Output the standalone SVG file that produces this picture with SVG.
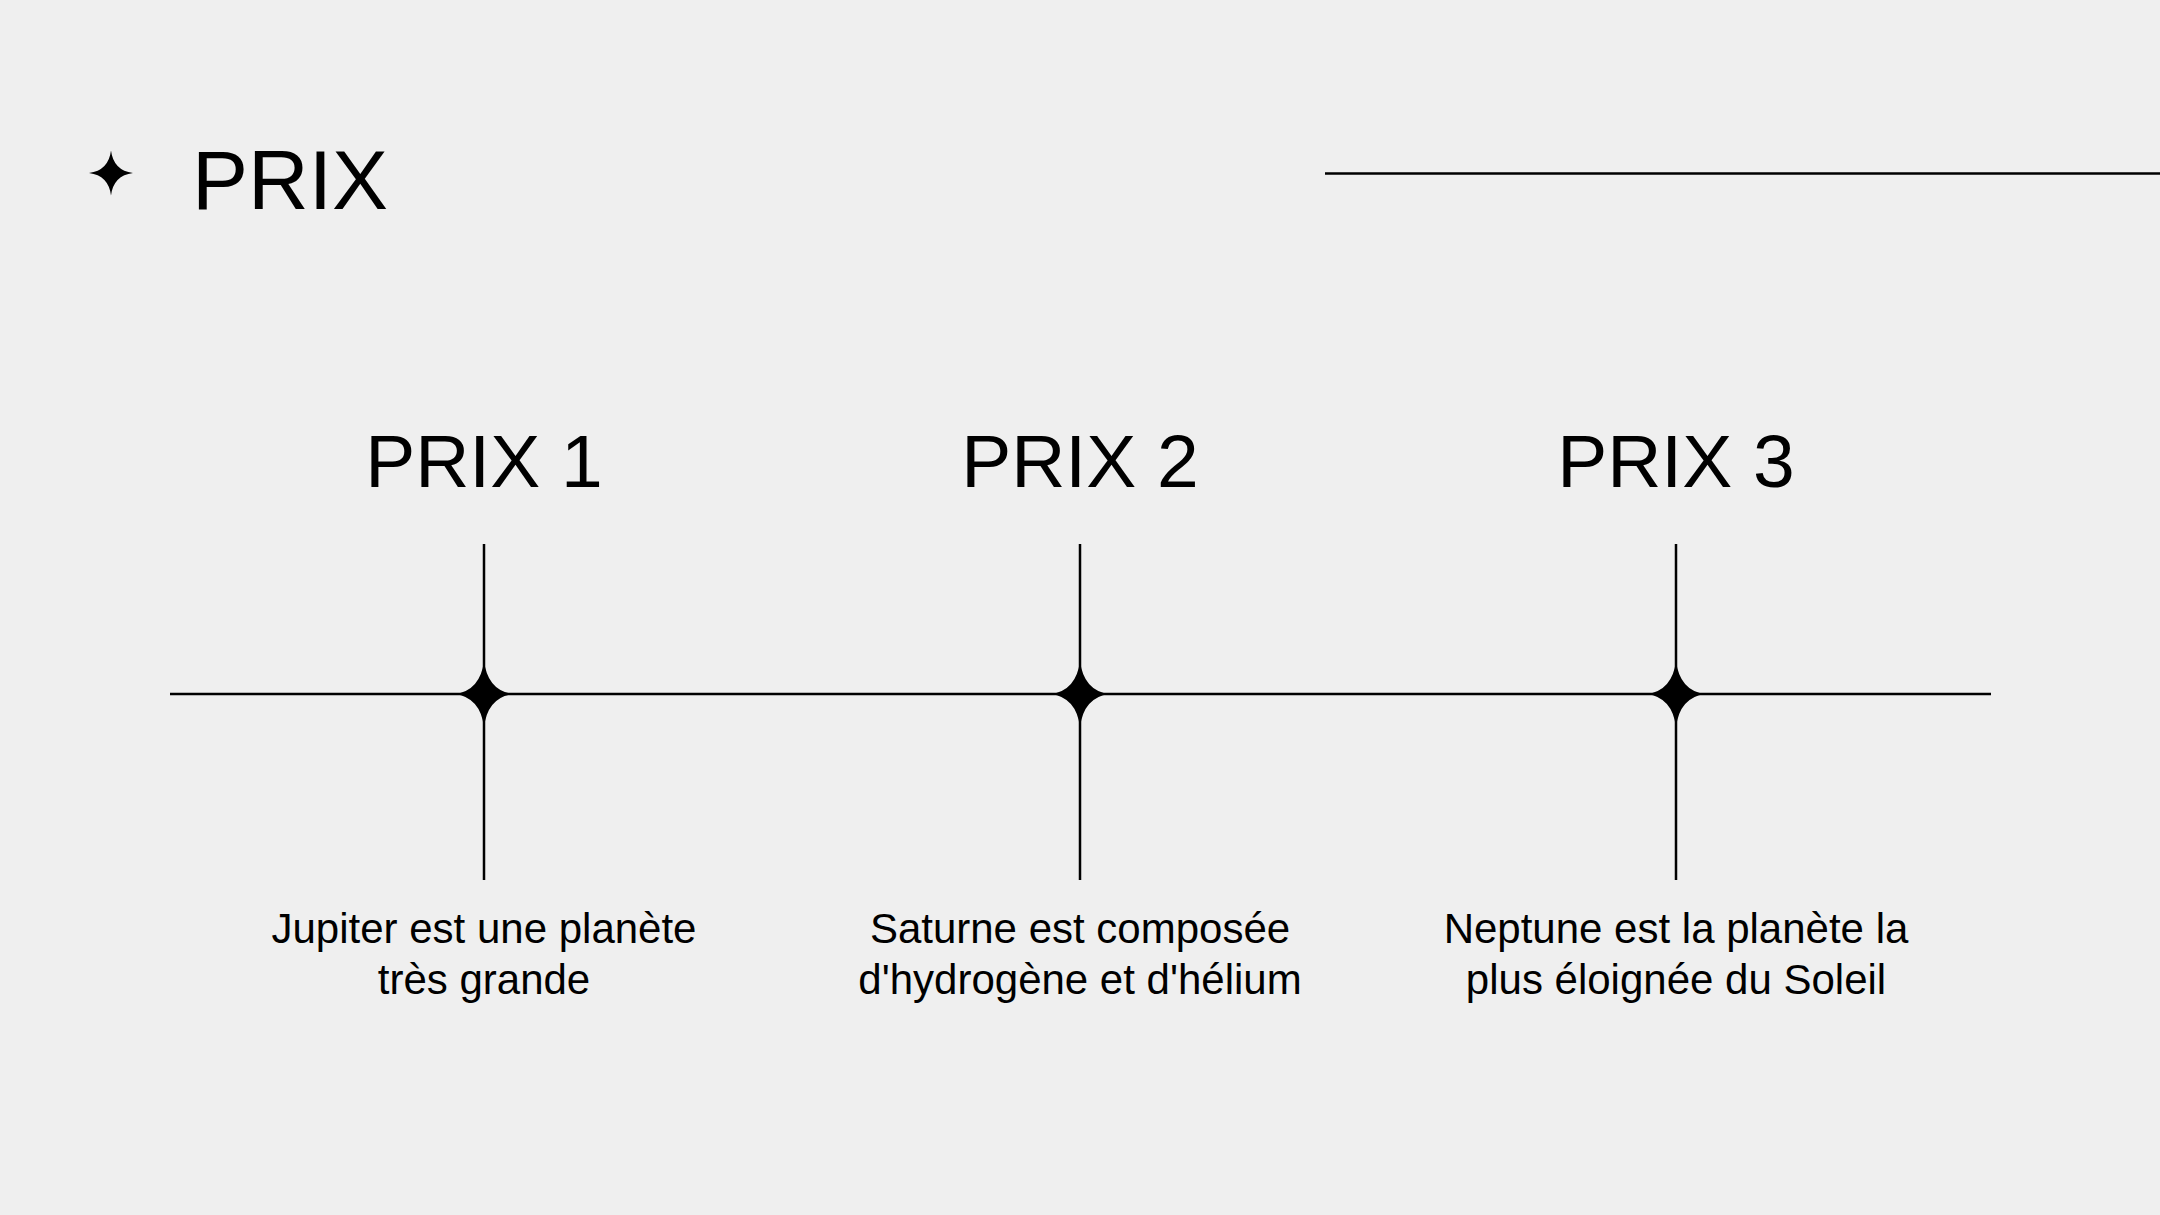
<svg xmlns="http://www.w3.org/2000/svg" width="2160" height="1215" viewBox="0 0 2160 1215">
<style>
.ln{stroke:#000;stroke-width:2.5;fill:none}
.hd{font-family:"Liberation Sans",Arial,sans-serif;fill:#000;text-anchor:middle;font-size:75px}
.ds{font-family:"Liberation Sans",Arial,sans-serif;fill:#000;text-anchor:middle;font-size:42px}
</style>
<defs>
<path id="star" d="M0,-33.5 Q3.5,-3.5 29,0 Q3.5,3.5 0,33.5 Q-3.5,3.5 -29,0 Q-3.5,-3.5 0,-33.5 Z" fill="#000"/>
</defs>
<rect width="2160" height="1215" fill="#efefef"/>
<g id="title">
<path d="M0,-22.5 Q2.5,-2.5 22,0 Q2.5,2.5 0,22.5 Q-2.5,2.5 -22,0 Q-2.5,-2.5 0,-22.5 Z" transform="translate(111,173)" fill="#000"/>
<text x="192" y="209" font-family="'Liberation Sans',Arial,sans-serif" font-size="84">PRIX</text>
<line class="ln" x1="1325" y1="173.5" x2="2160" y2="173.5"/>
</g>
<g id="connectors">
<line class="ln" x1="170" y1="694" x2="1991" y2="694"/>
<line class="ln" x1="484" y1="544" x2="484" y2="880"/>
<line class="ln" x1="1080" y1="544" x2="1080" y2="880"/>
<line class="ln" x1="1676" y1="544" x2="1676" y2="880"/>
</g>
<g id="prix1">
<use href="#star" x="484" y="694"/>
<text class="hd" x="484" y="487">PRIX 1</text>
<text class="ds" x="484" y="943">Jupiter est une planète</text>
<text class="ds" x="484" y="994">très grande</text>
</g>
<g id="prix2">
<use href="#star" x="1080" y="694"/>
<text class="hd" x="1080" y="487">PRIX 2</text>
<text class="ds" x="1080" y="943">Saturne est composée</text>
<text class="ds" x="1080" y="994">d'hydrogène et d'hélium</text>
</g>
<g id="prix3">
<use href="#star" x="1676" y="694"/>
<text class="hd" x="1676" y="487">PRIX 3</text>
<text class="ds" x="1676" y="943">Neptune est la planète la</text>
<text class="ds" x="1676" y="994">plus éloignée du Soleil</text>
</g>
</svg>
